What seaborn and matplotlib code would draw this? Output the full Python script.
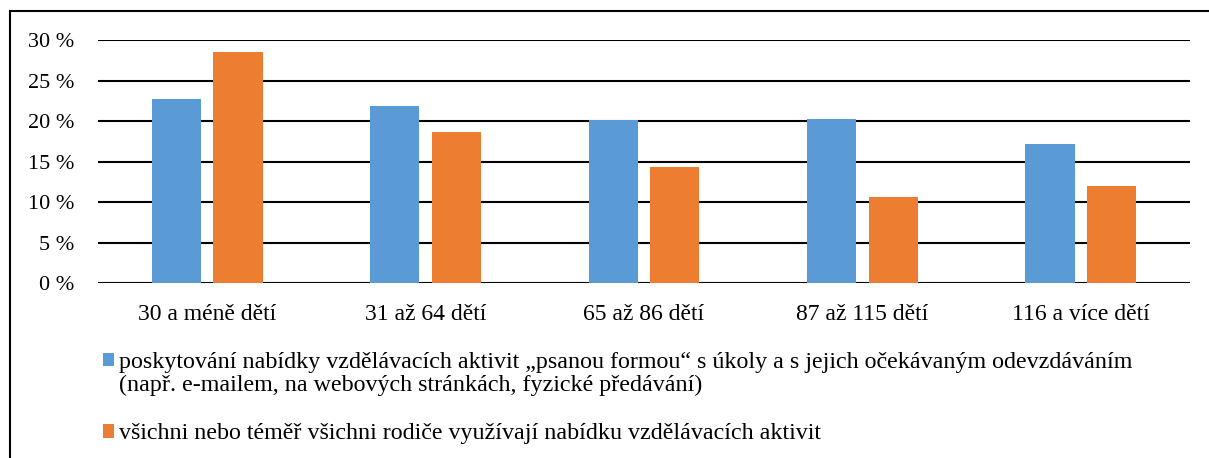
import matplotlib
matplotlib.use("Agg")
import matplotlib.pyplot as plt
import matplotlib.patches as mpatches
import seaborn as sns
import pandas as pd

categories = ["30 a méně dětí", "31 až 64 dětí", "65 až 86 dětí", "87 až 115 dětí", "116 a více dětí"]
series_names = [
    "poskytování nabídky vzdělávacích aktivit „psanou formou“ s úkoly a s jejich očekávaným odevzdáváním",
    "všichni nebo téměř všichni rodiče využívají nabídku vzdělávacích aktivit",
]
series_note = "(např. e-mailem, na webových stránkách, fyzické předávání)"
written_form = [22.7, 21.9, 20.1, 20.3, 17.2]
all_parents = [28.5, 18.7, 14.4, 10.7, 12.0]
y_ticks = [0, 5, 10, 15, 20, 25, 30]
y_tick_labels = ["0 %", "5 %", "10 %", "15 %", "20 %", "25 %", "30 %"]
colors = ["#5B9BD5", "#ED7D31"]

df = pd.DataFrame({
    "kategorie": categories * 2,
    "hodnota": written_form + all_parents,
    "serie": [series_names[0]] * 5 + [series_names[1]] * 5,
})

sns.set_theme(style="white")
plt.rcParams["font.family"] = ["Liberation Serif", "DejaVu Serif"]

fig = plt.figure(figsize=(12.09, 4.58), dpi=100)
ax = fig.add_axes([98 / 1209, 1 - 283.3 / 458, (1190 - 98) / 1209, (283.3 - 40.3) / 458])

sns.barplot(data=df, x="kategorie", y="hodnota", hue="serie", palette=colors,
            width=0.563, gap=0.2, ax=ax, legend=False, saturation=1,
            edgecolor="none", zorder=3)

ax.set_ylim(0, 30)
ax.set_xlim(-0.5, 4.5)
ax.set_yticks(y_ticks)
ax.set_yticklabels(y_tick_labels)
ax.set_xlabel("")
ax.set_ylabel("")
ax.yaxis.grid(True, color="black", linewidth=1.5, zorder=0)
ax.set_axisbelow(True)
for s in ax.spines.values():
    s.set_visible(False)
ax.tick_params(axis="y", length=0, pad=17, labelsize=16, colors="black")
ax.tick_params(axis="x", length=0, pad=15, labelsize=17, colors="black")

FS = 17.3
# legend entry 1 (two text lines, marker aligned with the first line)
h1 = [mpatches.Patch(facecolor=colors[0], edgecolor="none"),
      mpatches.Patch(facecolor="none", edgecolor="none")]
leg1 = fig.legend(h1, [series_names[0], series_note], loc="center left",
                  bbox_to_anchor=(103 / 1209, 1 - 374 / 458), frameon=False,
                  fontsize=FS, handlelength=0.47, handleheight=0.47,
                  handletextpad=0.2, labelspacing=0.05, borderaxespad=0,
                  borderpad=0)
# legend entry 2
h2 = [mpatches.Patch(facecolor=colors[1], edgecolor="none")]
leg2 = fig.legend(h2, [series_names[1]], loc="center left",
                  bbox_to_anchor=(103 / 1209, 1 - 434 / 458), frameon=False,
                  fontsize=FS, handlelength=0.47, handleheight=0.47,
                  handletextpad=0.2, borderaxespad=0, borderpad=0)
for lg in (leg1, leg2):
    for t in lg.get_texts():
        t.set_color("black")

border = mpatches.Rectangle((10 / 1209, -0.05), 1.2, 1 - 11 / 458 + 0.05,
                            transform=fig.transFigure, fill=False,
                            edgecolor="black", linewidth=1.5)
fig.patches.append(border)

fig.savefig("out.png", dpi=100)
